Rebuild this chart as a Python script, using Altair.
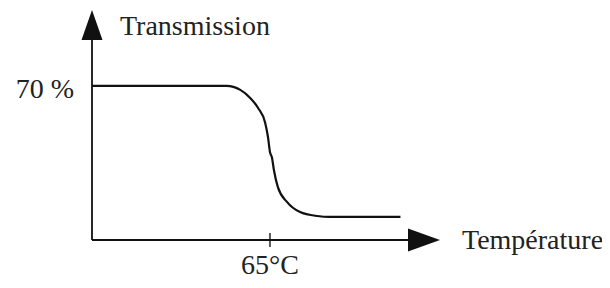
import altair as alt
import pandas as pd

# Curve: transmission (%) vs temperature (°C)
temperature = [20, 54, 57.5, 60, 62, 63.8, 64.5, 65, 65.5, 66, 67, 69.3, 72.6, 77, 80, 98]
transmission = [70, 70, 68.2, 64.5, 60, 53.2, 46.8, 40, 37.5, 31.8, 24, 17.3, 12.7, 10.9, 10.5, 10.5]

# axis extents and labelled values
x_axis = [20, 108]
y_axis = [0, 104.5]
x_tick = [65]
x_tick_labels = ["65°C"]
y_tick = [70]
y_tick_labels = ["70 %"]
x_title = "Température"
y_title = "Transmission"

FONT = "Liberation Serif"
INK = "#111111"
TXT = "#222222"

xs = alt.Scale(domain=x_axis, nice=False, zero=False)
ys = alt.Scale(domain=y_axis, nice=False, zero=False)

curve_df = pd.DataFrame({"t": temperature, "tr": transmission})
curve = alt.Chart(curve_df).mark_line(color=INK, strokeWidth=2.2, interpolate="monotone").encode(
    x=alt.X("t:Q", scale=xs, axis=None),
    y=alt.Y("tr:Q", scale=ys, axis=None),
)

# axis lines
xline_df = pd.DataFrame({"x": [x_axis[0]], "x2": [x_axis[1] - 4], "y": [y_axis[0]]})
xline = alt.Chart(xline_df).mark_rule(color=INK, strokeWidth=2).encode(
    x=alt.X("x:Q", scale=xs, axis=None), x2="x2:Q", y=alt.Y("y:Q", scale=ys, axis=None)
)
yline_df = pd.DataFrame({"x": [x_axis[0]], "y": [y_axis[0]], "y2": [y_axis[1] - 4]})
yline = alt.Chart(yline_df).mark_rule(color=INK, strokeWidth=1.8).encode(
    x=alt.X("x:Q", scale=xs, axis=None), y=alt.Y("y:Q", scale=ys, axis=None), y2="y2:Q"
)

# arrow heads (placed at axis ends, drawn backwards from the tip)
up_df = pd.DataFrame({"x": [x_axis[0]], "y": [y_axis[1]]})
up_arrow = alt.Chart(up_df).mark_point(
    shape="M0,0L0.7,2L-0.7,2Z", size=900, filled=True, color=INK, opacity=1
).encode(x=alt.X("x:Q", scale=xs, axis=None), y=alt.Y("y:Q", scale=ys, axis=None))

right_df = pd.DataFrame({"x": [x_axis[1]], "y": [y_axis[0]]})
right_arrow = alt.Chart(right_df).mark_point(
    shape="M0,0L-2,-0.72L-2,0.72Z", size=1024, filled=True, color=INK, opacity=1
).encode(x=alt.X("x:Q", scale=xs, axis=None), y=alt.Y("y:Q", scale=ys, axis=None))

# tick at 65 °C
tick_df = pd.DataFrame({"x": x_tick, "y": [y_axis[0]] * len(x_tick), "label": x_tick_labels})
tick = alt.Chart(tick_df).mark_tick(orient="vertical", color=INK, thickness=2, size=14).encode(
    x=alt.X("x:Q", scale=xs, axis=None), y=alt.Y("y:Q", scale=ys, axis=None)
)
tick_text = alt.Chart(tick_df).mark_text(
    font=FONT, fontSize=28, color=TXT, align="center", baseline="alphabetic", dy=34
).encode(x=alt.X("x:Q", scale=xs, axis=None), y=alt.Y("y:Q", scale=ys, axis=None), text="label:N")

ylab_df = pd.DataFrame({"x": [x_axis[0]] * len(y_tick), "y": y_tick, "label": y_tick_labels})
ylab = alt.Chart(ylab_df).mark_text(
    font=FONT, fontSize=28, color=TXT, align="right", baseline="alphabetic", dx=-18, dy=12
).encode(x=alt.X("x:Q", scale=xs, axis=None), y=alt.Y("y:Q", scale=ys, axis=None), text="label:N")

ytitle_df = pd.DataFrame({"x": [x_axis[0]], "y": [y_axis[1]], "label": [y_title]})
ytitle = alt.Chart(ytitle_df).mark_text(
    font=FONT, fontSize=28, color=TXT, align="left", baseline="alphabetic", dx=28, dy=25
).encode(x=alt.X("x:Q", scale=xs, axis=None), y=alt.Y("y:Q", scale=ys, axis=None), text="label:N")

xtitle_df = pd.DataFrame({"x": [x_axis[1]], "y": [y_axis[0]], "label": [x_title]})
xtitle = alt.Chart(xtitle_df).mark_text(
    font=FONT, fontSize=28, color=TXT, align="left", baseline="alphabetic", dx=22, dy=9
).encode(x=alt.X("x:Q", scale=xs, axis=None), y=alt.Y("y:Q", scale=ys, axis=None), text="label:N")

chart = alt.layer(
    xline, yline, up_arrow, right_arrow, tick, curve, tick_text, ylab, ytitle, xtitle
).properties(
    width=348, height=230,
    background="white",
    autosize=alt.AutoSizeParams(type="none"),
    padding={"left": 84, "top": 2, "right": 162, "bottom": 40},
).configure_view(strokeWidth=0, strokeOpacity=0)

chart.save("out.html", embed_options={"renderer": "svg", "actions": False})
